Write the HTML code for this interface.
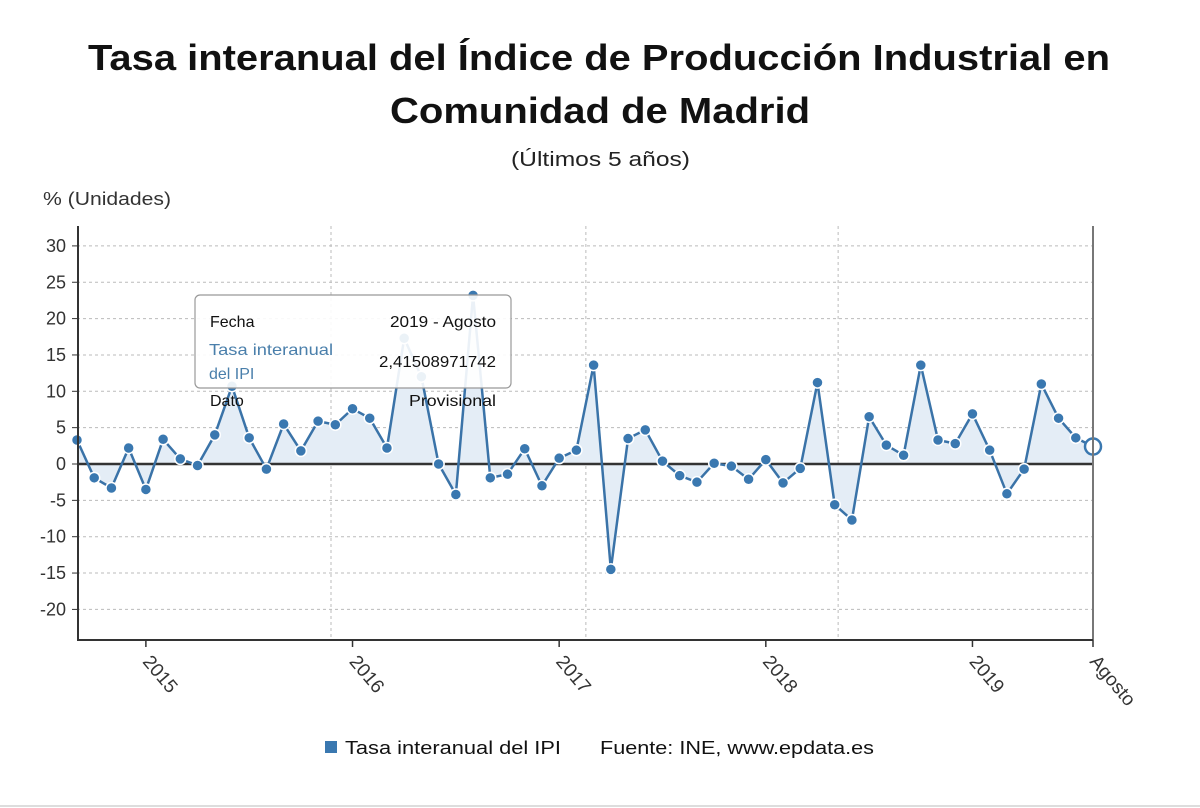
<!DOCTYPE html>
<html><head><meta charset="utf-8"><style>
body{margin:0;background:#fff;width:1200px;height:808px;overflow:hidden;font-family:"Liberation Sans",sans-serif;}
svg{display:block}
</style></head><body>
<svg id="chart" width="1200" height="808" font-family="Liberation Sans, sans-serif">
<text x="88" y="70" textLength="1022" lengthAdjust="spacingAndGlyphs" font-size="36" font-weight="bold" fill="#111">Tasa interanual del Índice de Producción Industrial en</text>
<text x="390" y="123" textLength="420" lengthAdjust="spacingAndGlyphs" font-size="36" font-weight="bold" fill="#111">Comunidad de Madrid</text>
<text x="511" y="166" textLength="179" lengthAdjust="spacingAndGlyphs" font-size="20" fill="#222">(Últimos 5 años)</text>
<text x="43" y="205" textLength="128" lengthAdjust="spacingAndGlyphs" font-size="18" fill="#333">% (Unidades)</text>
<g id="grid"></g><g id="series"></g><g id="axes"></g>
<g>
<rect x="195" y="295" width="316" height="93" rx="5" fill="#fff" fill-opacity="0.9" stroke="#999" stroke-width="1.2"/>
<text x="210" y="327" font-size="16" fill="#111">Fecha</text>
<text x="496" y="327" font-size="16" fill="#111" text-anchor="end" textLength="106" lengthAdjust="spacingAndGlyphs">2019 - Agosto</text>
<text x="209" y="355" font-size="16" fill="#4a7fab" textLength="124" lengthAdjust="spacingAndGlyphs">Tasa interanual</text>
<text x="209" y="379" font-size="16" fill="#4a7fab">del IPI</text>
<text x="496" y="367" font-size="16" fill="#111" text-anchor="end" textLength="117" lengthAdjust="spacingAndGlyphs">2,41508971742</text>
<text x="210" y="406" font-size="16" fill="#111">Dato</text>
<text x="496" y="406" font-size="16" fill="#111" text-anchor="end" textLength="87" lengthAdjust="spacingAndGlyphs">Provisional</text>
</g>
<rect x="325" y="741" width="12" height="12" fill="#3a78b0"/>
<text x="345" y="754" textLength="216" lengthAdjust="spacingAndGlyphs" font-size="18" fill="#111">Tasa interanual del IPI</text>
<text x="600" y="754" textLength="274" lengthAdjust="spacingAndGlyphs" font-size="18" fill="#111">Fuente: INE, www.epdata.es</text>
<line x1="0" y1="806" x2="1200" y2="806" stroke="#ddd" stroke-width="2"/>
</svg>
<script>
const values=[3.3,-1.9,-3.3,2.2,-3.5,3.4,0.7,-0.2,4.0,10.7,3.6,-0.7,5.5,1.8,5.9,5.4,7.6,6.3,2.2,17.3,12,0.0,-4.2,23.2,-1.9,-1.4,2.1,-3.0,0.8,1.9,13.6,-14.5,3.5,4.7,0.4,-1.6,-2.5,0.1,-0.3,-2.1,0.6,-2.6,-0.6,11.2,-5.6,-7.7,6.5,2.6,1.2,13.6,3.3,2.8,6.9,1.9,-4.1,-0.7,11.0,6.3,3.6,2.4];
const yTicks=[30,25,20,15,10,5,0,-5,-10,-15,-20];
const xTickIdx=[4,16,28,40,52,59];
const xTickLabels=["2015","2016","2017","2018","2019","Agosto"];
const vGridIdx=[14.75,29.55,44.2];
const NS="http://www.w3.org/2000/svg";
const X0=77,X1=1093,Y0=464,PU=7.27;
const xs=i=>X0+i*(X1-X0)/(values.length-1);
const ys=v=>Y0-v*PU;
function mk(p,t,a){const e=document.createElementNS(NS,t);for(const k in a)e.setAttribute(k,a[k]);p.appendChild(e);return e;}
const grid=document.getElementById('grid'),ser=document.getElementById('series'),ax=document.getElementById('axes');
yTicks.forEach(t=>{
 const l=mk(grid,'line',{x1:X0,x2:X1,y1:ys(t),y2:ys(t),stroke:'#bbb','stroke-dasharray':'3,3'});
 
 
 const tx=mk(ax,'text',{x:66,y:ys(t)+6,'text-anchor':'end','font-size':18,fill:'#333'});tx.textContent=t;
 
 
 mk(ax,'line',{x1:72,x2:78,y1:ys(t),y2:ys(t),stroke:'#333'});
});
vGridIdx.forEach(i=>{
 const l=mk(grid,'line',{x1:xs(i),x2:xs(i),y1:226,y2:640,stroke:'#bbb','stroke-dasharray':'3,3'});
 
 
});
let d='M'+xs(0)+','+Y0;values.forEach((v,i)=>d+=' L'+xs(i)+','+ys(v));d+=' L'+xs(values.length-1)+','+Y0+'Z';
const area=mk(ser,'path',{d:d,fill:'#e4edf6'});


mk(ser,'line',{x1:X0,x2:X1,y1:Y0,y2:Y0,stroke:'#333','stroke-width':2.5});
const line=mk(ser,'polyline',{points:values.map((v,i)=>xs(i)+','+ys(v)).join(' '),fill:'none',stroke:'#3a73a8','stroke-width':2.5});


values.forEach((v,i)=>{
 const last=i===values.length-1;
 const c=mk(ser,'circle',{cx:xs(i),cy:ys(v),r:last?8:5.5,fill:last?'#fff':'#3a78b0',stroke:last?'#3a78b0':'#fff','stroke-width':last?2.5:1.5});
 
 
});
mk(ax,'line',{x1:78,x2:78,y1:226,y2:640,stroke:'#333','stroke-width':2});
mk(ax,'line',{x1:X1,x2:X1,y1:226,y2:640,stroke:'#777','stroke-width':2});
mk(ax,'line',{x1:77,x2:X1,y1:640,y2:640,stroke:'#333','stroke-width':2});
xTickIdx.forEach((i,k)=>{
 const x=xs(i);
 mk(ax,'line',{x1:x,x2:x,y1:640,y2:647,stroke:'#333','stroke-width':1.5});
 const t=mk(ax,'text',{x:x-4,y:662,'font-size':19,fill:'#333',transform:'rotate(50 '+(x-4)+' 662)'});
 t.textContent=xTickLabels[k];
 
 
});
</script>
</body></html>
